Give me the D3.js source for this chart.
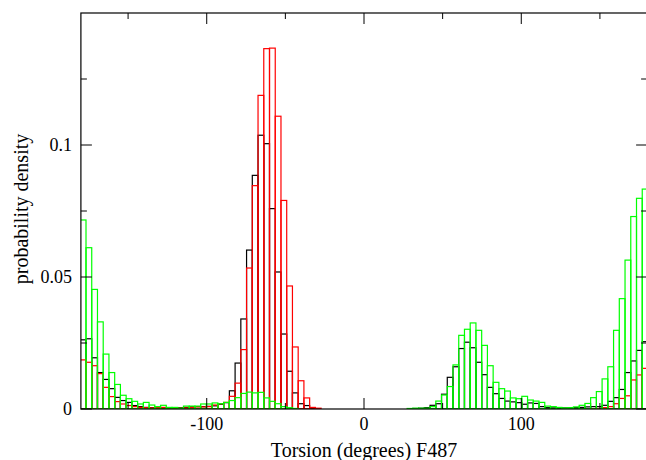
<!DOCTYPE html>
<html>
<head>
<meta charset="utf-8">
<script src="https://cdn.jsdelivr.net/npm/d3@7"></script>
<style>
  html, body { margin: 0; padding: 0; background: #fff; }
  svg { display: block; }
  text { font-family: "Liberation Serif", "Times New Roman", serif; fill: #000; }
</style>
</head>
<body>
<div id="viz"></div>
<script>
// histogram bins: first bin starts here, all bins same width (degrees)
const binStart = -180.4
const binWidth = 3.646

const seriesColors = ["#000000", "#ff0000", "#00ff00"]

const blackValues = [
  0.0262, 0.0266, 0.0194, 0.0138, 0.0112, 0.0077, 0.0044, 0.0032, 0.0025, 0.0013,
  0.0009, 0.0006, 0.0005, 0.0004, 0.0004, 0.0003, 0.0004, 0.0005, 0.0006, 0.0008,
  0.0009, 0.0009, 0.0010, 0.0012, 0.0018, 0.0024, 0.0069, 0.0174, 0.0341, 0.0602,
  0.0885, 0.1037, 0.1005, 0.0759, 0.0519, 0.0284, 0.0143, 0.0061, 0.0020, 0.0013,
  0.0003, 0, 0, 0, 0, 0, 0, 0, 0, 0,
  0, 0, 0, 0, 0, 0, 0, 0, 0.0002, 0.0003,
  0.0005, 0.0014, 0.0020, 0.0056, 0.0120, 0.0160, 0.0229, 0.0253, 0.0232, 0.0177,
  0.0130, 0.0082, 0.0058, 0.0040, 0.0030, 0.0027, 0.0024, 0.0018, 0.0023, 0.0021,
  0.0009, 0.0005, 0.0004, 0.0004, 0.0004, 0.0005, 0.0005, 0.0006, 0.0008, 0.0009,
  0.0009, 0.0014, 0.0029, 0.0043, 0.0074, 0.0138, 0.0182, 0.0222, 0.0255
]

const redValues = [
  0.0186, 0.0177, 0.0164, 0.0134, 0.0082, 0.0047, 0.0028, 0.0019, 0.0013, 0.0009,
  0.0006, 0.0005, 0.0004, 0.0005, 0.0006, 0.0005, 0.0004, 0.0003, 0.0004, 0.0006,
  0.0008, 0.0008, 0.0009, 0.0015, 0.0020, 0.0025, 0.0048, 0.0098, 0.0225, 0.0534,
  0.0846, 0.1188, 0.1365, 0.1367, 0.1109, 0.0790, 0.0466, 0.0235, 0.0107, 0.0042,
  0.0006, 0.0003, 0, 0, 0, 0, 0, 0, 0, 0,
  0, 0, 0, 0, 0, 0, 0, 0, 0, 0,
  0, 0, 0, 0, 0, 0, 0, 0, 0, 0,
  0, 0, 0, 0, 0, 0, 0, 0, 0, 0,
  0, 0, 0, 0, 0, 0, 0, 0, 0, 0.0001,
  0.0002, 0.0005, 0.0009, 0.0020, 0.0040, 0.0050, 0.0110, 0.0129, 0.0154
]

const greenValues = [
  0.0716, 0.0611, 0.0453, 0.0330, 0.0208, 0.0138, 0.0093, 0.0052, 0.0039, 0.0029,
  0.0019, 0.0025, 0.0015, 0.0009, 0.0014, 0.0006, 0.0006, 0.0003, 0.0011, 0.0011,
  0.0011, 0.0019, 0.0019, 0.0023, 0.0020, 0.0025, 0.0032, 0.0043, 0.0059, 0.0064,
  0.0061, 0.0063, 0.0042, 0.0029, 0.0020, 0.0009, 0.0005, 0.0002, 0, 0,
  0, 0, 0, 0, 0, 0, 0, 0, 0, 0,
  0, 0, 0, 0, 0, 0, 0, 0.0002, 0.0003, 0.0003,
  0.0003, 0.0009, 0.0030, 0.0053, 0.0085, 0.0167, 0.0279, 0.0302, 0.0326, 0.0298,
  0.0241, 0.0164, 0.0101, 0.0077, 0.0068, 0.0042, 0.0039, 0.0048, 0.0034, 0.0030,
  0.0025, 0.0011, 0.0009, 0.0006, 0.0004, 0.0005, 0.0008, 0.0014, 0.0021, 0.0043,
  0.0066, 0.0114, 0.0160, 0.0298, 0.0418, 0.0564, 0.0729, 0.0798, 0.0833
]

const xMajorTicks = [-100, 0, 100]
const xMinorTicks = [-150, -50, 50, 150]
const yMajorTicks = [0, 0.05, 0.1]
const yMinorTicks = [0.025, 0.075, 0.125]

document.addEventListener("DOMContentLoaded", () => {
  const width = 646
  const height = 460
  const margin = { left: 80.9, right: 647.1, top: 13, bottom: 409 }

  const svg = d3.select("#viz").append("svg")
    .attr("width", width)
    .attr("height", height)

  const x = d3.scaleLinear().domain([-180, 180]).range([margin.left, margin.right])
  const y = d3.scaleLinear().domain([0, 0.15]).range([margin.bottom, margin.top])

  svg.append("clipPath")
    .attr("id", "plotclip")
    .append("rect")
      .attr("x", margin.left)
      .attr("y", margin.top)
      .attr("width", margin.right - margin.left)
      .attr("height", margin.bottom - margin.top)

  const plot = svg.append("g").attr("clip-path", "url(#plotclip)")

  // black first, then red, green on top
  const allSeries = [blackValues, redValues, greenValues]
  allSeries.forEach((values, i) => {
    plot.append("g")
      .selectAll("rect")
      .data(values)
      .enter()
      .append("rect")
        .attr("x", (d, k) => x(binStart + k * binWidth))
        .attr("width", (d, k) => x(binStart + (k + 1) * binWidth) - x(binStart + k * binWidth))
        .attr("y", d => y(d))
        .attr("height", d => y(0) - y(d))
        .attr("fill", "none")
        .attr("stroke", seriesColors[i])
        .attr("stroke-width", 1.2)
  })

  // frame
  svg.append("rect")
    .attr("x", margin.left)
    .attr("y", margin.top)
    .attr("width", margin.right - margin.left)
    .attr("height", margin.bottom - margin.top)
    .attr("fill", "none")
    .attr("stroke", "#000")
    .attr("stroke-width", 1.2)

  const major = 11
  const minor = 6

  // ticks on all four sides, pointing inward
  const xTicks = xMajorTicks.map(v => ({ v, len: major })).concat(xMinorTicks.map(v => ({ v, len: minor })))
  const yTicks = yMajorTicks.map(v => ({ v, len: major })).concat(yMinorTicks.map(v => ({ v, len: minor })))

  const ticks = svg.append("g").attr("stroke", "#000").attr("stroke-width", 1)

  ticks.selectAll(".xb").data(xTicks).enter().append("line")
    .attr("x1", d => x(d.v)).attr("x2", d => x(d.v))
    .attr("y1", y(0)).attr("y2", d => y(0) - d.len)
  ticks.selectAll(".xt").data(xTicks).enter().append("line")
    .attr("x1", d => x(d.v)).attr("x2", d => x(d.v))
    .attr("y1", margin.top).attr("y2", d => margin.top + d.len)
  ticks.selectAll(".yl").data(yTicks).enter().append("line")
    .attr("x1", margin.left).attr("x2", d => margin.left + d.len)
    .attr("y1", d => y(d.v)).attr("y2", d => y(d.v))
  ticks.selectAll(".yr").data(yTicks).enter().append("line")
    .attr("x1", margin.right).attr("x2", d => margin.right - d.len)
    .attr("y1", d => y(d.v)).attr("y2", d => y(d.v))

  svg.append("g").selectAll("text")
    .data(xMajorTicks)
    .enter()
    .append("text")
      .attr("x", d => x(d))
      .attr("y", 430)
      .attr("text-anchor", "middle")
      .attr("font-size", 18)
      .text(d => d)

  svg.append("g").selectAll("text")
    .data(yMajorTicks)
    .enter()
    .append("text")
      .attr("x", 72)
      .attr("y", d => y(d) + 6)
      .attr("text-anchor", "end")
      .attr("font-size", 18)
      .text(d => d)

  svg.append("text")
    .attr("x", 364)
    .attr("y", 457)
    .attr("text-anchor", "middle")
    .attr("font-size", 20)
    .text("Torsion (degrees) F487")

  svg.append("text")
    .attr("transform", "translate(28,209) rotate(-90)")
    .attr("text-anchor", "middle")
    .attr("font-size", 20)
    .text("probability density")
})
</script>
</body>
</html>
